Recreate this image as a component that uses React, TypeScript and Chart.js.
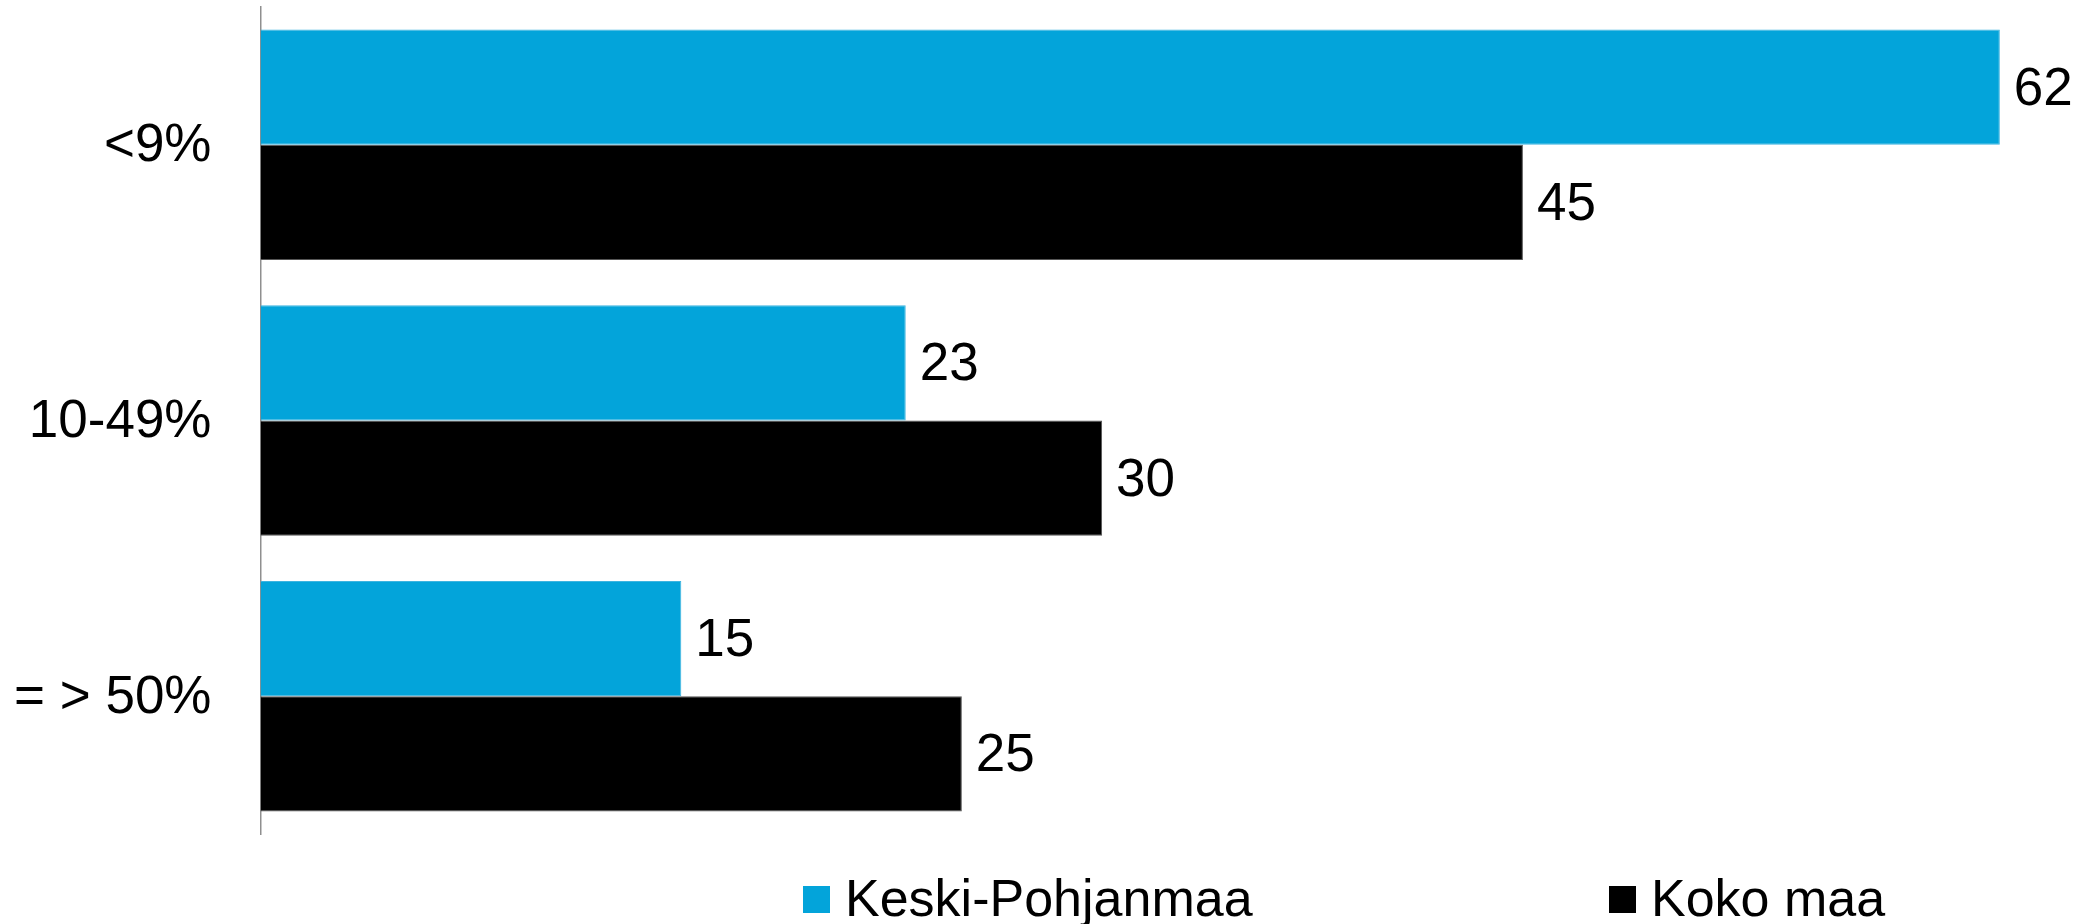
import React, { useEffect, useRef } from 'react';
import { Chart, registerables } from 'chart.js';

Chart.register(...registerables);

const categories = ['<9%', '10-49%', '= > 50%'];
const keskiPohjanmaa = [62, 23, 15];
const kokoMaa = [45, 30, 25];
const seriesNames = ['Keski-Pohjanmaa', 'Koko maa'];
const xMax = 65;

const BLUE = '#03A4DA';
const BLACK = '#000000';
const FONT = "'Liberation Sans', Arial, sans-serif";

export default function App() {
  const ref = useRef<HTMLCanvasElement>(null);

  useEffect(() => {
    if (!ref.current) return;

    const valueLabels = {
      id: 'valueLabels',
      afterDatasetsDraw(chart: any) {
        const ctx = chart.ctx;
        ctx.save();
        ctx.font = `53px ${FONT}`;
        ctx.fillStyle = '#000';
        ctx.textAlign = 'left';
        ctx.textBaseline = 'middle';
        chart.data.datasets.forEach((ds: any, i: number) => {
          const meta = chart.getDatasetMeta(i);
          meta.data.forEach((bar: any, j: number) => {
            ctx.fillText(String(ds.data[j]), bar.x + 14, bar.y + 3);
          });
        });
        ctx.restore();
      },
    };

    const legendItems = [
      { x: 803, color: BLUE, text: seriesNames[0] },
      { x: 1609, color: BLACK, text: seriesNames[1] },
    ];

    const customLegend = {
      id: 'customLegend',
      afterDraw(chart: any) {
        const ctx = chart.ctx;
        ctx.save();
        ctx.font = `52px ${FONT}`;
        ctx.textAlign = 'left';
        ctx.textBaseline = 'alphabetic';
        legendItems.forEach((it) => {
          ctx.fillStyle = it.color;
          ctx.fillRect(it.x, 886, 27, 27);
          ctx.fillStyle = '#000';
          ctx.fillText(it.text, it.x + 42, 916);
        });
        ctx.restore();
      },
    };

    const chart = new Chart(ref.current, {
      type: 'bar',
      data: {
        labels: categories,
        datasets: [
          {
            label: seriesNames[0],
            data: keskiPohjanmaa,
            backgroundColor: BLUE,
            borderColor: '#3DB4E0',
            borderWidth: 1,
            barPercentage: 1,
            categoryPercentage: 0.836,
          },
          {
            label: seriesNames[1],
            data: kokoMaa,
            backgroundColor: BLACK,
            borderColor: '#555555',
            borderWidth: 1,
            barPercentage: 1,
            categoryPercentage: 0.836,
          },
        ],
      },
      options: {
        indexAxis: 'y',
        animation: false,
        responsive: false,
        maintainAspectRatio: false,
        layout: { padding: { left: 14, right: 4, top: 7, bottom: 90 } },
        plugins: {
          legend: { display: false },
          tooltip: { enabled: false },
        },
        scales: {
          x: {
            display: false,
            min: 0,
            max: xMax,
          },
          y: {
            grid: { display: false, drawTicks: false },
            border: { display: true, color: '#8F8F8F', width: 1.5 },
            ticks: {
              color: '#000',
              padding: 49,
              labelOffset: 2,
              font: { family: FONT, size: 53 },
            },
            afterFit(scale: any) {
              scale.width = 246.5;
              scale.paddingTop = 0;
              scale.paddingBottom = 0;
            },
          },
        },
      },
      plugins: [valueLabels, customLegend],
    });

    return () => chart.destroy();
  }, []);

  return (
    <div style={{ position: 'fixed', left: 0, top: 0, width: 2088, height: 924, background: '#fff' }}>
      <canvas ref={ref} width={2088} height={924} style={{ width: 2088, height: 924, display: 'block' }} />
    </div>
  );
}
